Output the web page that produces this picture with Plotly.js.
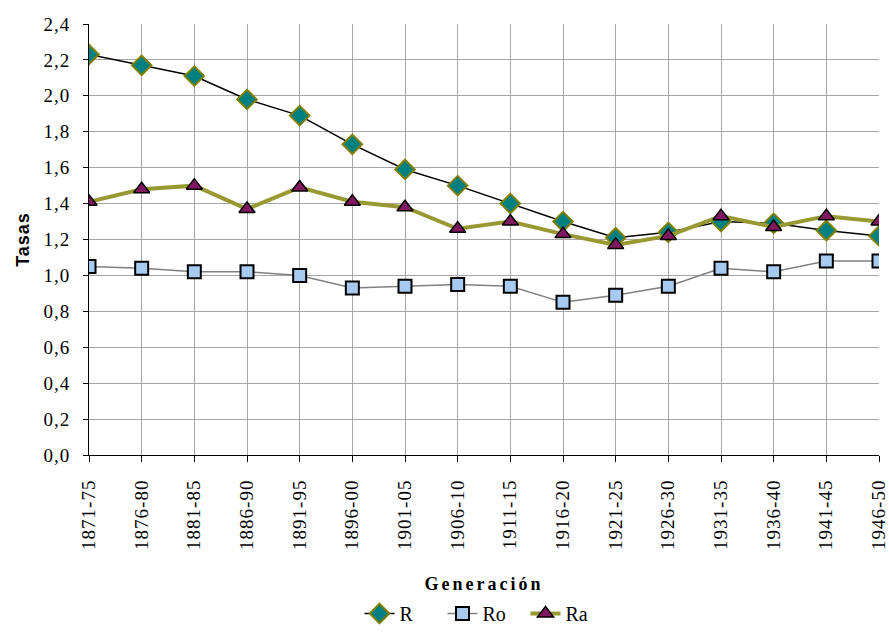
<!DOCTYPE html>
<html>
<head>
<meta charset="utf-8">
<script src="https://cdn.plot.ly/plotly-3.0.1.min.js"></script>
<style>
html,body{margin:0;padding:0;background:#fff;}
#chart{width:889px;height:633px;}
.xtitle{letter-spacing:3px;}
.ytitle{letter-spacing:1px;}
.xtick text, .ytick text{letter-spacing:1px;}
</style>
</head>
<body>
<div id="chart"></div>
<script>
var categories = ["1871-75","1876-80","1881-85","1886-90","1891-95","1896-00","1901-05","1906-10","1911-15","1916-20","1921-25","1926-30","1931-35","1936-40","1941-45","1946-50"];
var R  = [2.23, 2.17, 2.11, 1.98, 1.89, 1.73, 1.59, 1.50, 1.40, 1.30, 1.21, 1.24, 1.30, 1.29, 1.25, 1.22];
var Ro = [1.05, 1.04, 1.02, 1.02, 1.00, 0.93, 0.94, 0.95, 0.94, 0.85, 0.89, 0.94, 1.04, 1.02, 1.08, 1.08];
var Ra = [1.41, 1.48, 1.50, 1.37, 1.49, 1.41, 1.38, 1.26, 1.30, 1.23, 1.17, 1.22, 1.33, 1.27, 1.33, 1.30];
var yTickVals = [0,0.2,0.4,0.6,0.8,1.0,1.2,1.4,1.6,1.8,2.0,2.2,2.4];
var yTickText = ["0,0","0,2","0,4","0,6","0,8","1,0","1,2","1,4","1,6","1,8","2,0","2,2","2,4"];

var SERIF = "Liberation Serif";
var SANS = "Liberation Sans";

var traces = [
  {x: categories, y: R, name: "R", type: "scatter", mode: "lines+markers",
   line: {color: "#000000", width: 1.5},
   marker: {symbol: "diamond", size: 15, color: "#008080", line: {color: "#808000", width: 2}}},
  {x: categories, y: Ro, name: "Ro", type: "scatter", mode: "lines+markers",
   line: {color: "#808080", width: 1.5},
   marker: {symbol: "square", size: 13, color: "#a6caf0", line: {color: "#000000", width: 2}}},
  {x: categories, y: Ra, name: "Ra", type: "scatter", mode: "lines+markers",
   line: {color: "#999933", width: 4},
   marker: {symbol: "triangle-up", size: 14, color: "#80195f", line: {color: "#000000", width: 1.5}}}
];

var layout = {
  width: 889, height: 633,
  font: {family: SERIF, size: 18, color: "#000"},
  margin: {l: 89, r: 10, t: 24, b: 178},
  paper_bgcolor: "#ffffff", plot_bgcolor: "#ffffff",
  showlegend: true,
  legend: {orientation: "h", x: 0.5, xanchor: "center", xref: "paper",
           y: -0.012, yref: "container", yanchor: "bottom",
           font: {family: SERIF, size: 20, color: "#000"},
           entrywidth: 38, entrywidthmode: "pixels", tracegroupgap: 0},
  xaxis: {
    type: "category", range: [0, 15],
    showgrid: true, gridcolor: "#a6a6a6", gridwidth: 1,
    showline: true, linecolor: "#000", linewidth: 1,
    ticks: "outside", ticklen: 6, tickcolor: "#000",
    tickangle: -90, ticklabelstandoff: 10,
    tickfont: {family: SERIF, size: 19, color: "#000"},
    title: {text: "<b>Generación</b>", standoff: 47,
            font: {family: SERIF, size: 18, color: "#000"}},
    zeroline: false, fixedrange: true, automargin: false
  },
  yaxis: {
    range: [0, 2.4],
    tickvals: yTickVals, ticktext: yTickText,
    showgrid: true, gridcolor: "#a6a6a6", gridwidth: 1,
    showline: true, linecolor: "#000", linewidth: 1,
    ticks: "outside", ticklen: 5, tickcolor: "#000", ticklabelstandoff: 9,
    tickfont: {family: SERIF, size: 19, color: "#000"},
    title: {text: "<b>Tasas</b>", standoff: 9,
            font: {family: SANS, size: 18, color: "#000"}},
    zeroline: false, fixedrange: true, automargin: false
  }
};

Plotly.newPlot("chart", traces, layout, {displayModeBar: false, staticPlot: true});
</script>
</body>
</html>
